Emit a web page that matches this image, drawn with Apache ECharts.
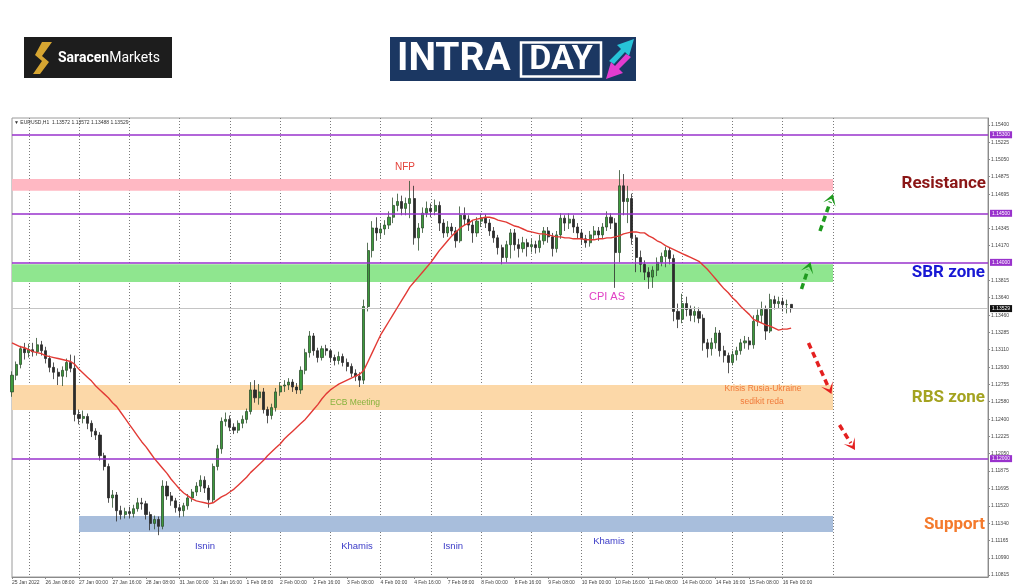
<!DOCTYPE html>
<html><head><meta charset="utf-8">
<script src="https://cdn.jsdelivr.net/npm/echarts@6/dist/echarts.min.js"></script>
<style>html,body{margin:0;padding:0;background:#fff}#c{width:1024px;height:587px}</style>
</head><body><div id="c"></div>
<script>
// ---- tick labels ----
const xTickLabels = ["25 Jan 2022","26 Jan 08:00","27 Jan 00:00","27 Jan 16:00","28 Jan 08:00","31 Jan 00:00","31 Jan 16:00","1 Feb 08:00","2 Feb 00:00","2 Feb 16:00","3 Feb 08:00","4 Feb 00:00","4 Feb 16:00","7 Feb 08:00","8 Feb 00:00","8 Feb 16:00","9 Feb 08:00","10 Feb 00:00","10 Feb 16:00","11 Feb 08:00","14 Feb 00:00","14 Feb 16:00","15 Feb 08:00","16 Feb 00:00"];
const yTickValues = [1.15400,1.15225,1.15050,1.14875,1.14695,1.14345,1.14170,1.13815,1.13640,1.13460,1.13285,1.13110,1.12930,1.12755,1.12580,1.12400,1.12225,1.12050,1.11875,1.11695,1.11520,1.11340,1.11165,1.10990,1.10815];
// ---- levels & zones ----
const levelLines = [1.15300, 1.14500, 1.14000, 1.12000];
const lastPrice = 1.13529;
const resistanceZone = [1.1473, 1.1485];
const sbrZone = [1.1380, 1.1398];
const rbsZone = [1.12496, 1.12751];
const supportZone = [1.11252, 1.11415];
// ---- EURUSD 2-hour candles [open, close, low, high] ----
const candles = [
[1.1268,1.1285,1.1263,1.1289],[1.1285,1.1296,1.1280,1.1299],[1.1296,1.1312,1.1292,1.1315],[1.1312,1.1308,1.1301,1.1318],[1.1308,1.1311,1.1303,1.1317],
[1.1311,1.1309,1.1304,1.1318],[1.1309,1.1316,1.1305,1.1323],[1.1316,1.1310,1.1305,1.1320],[1.1310,1.1302,1.1297,1.1314],[1.1302,1.1293,1.1288,1.1305],
[1.1293,1.1288,1.1281,1.1298],[1.1288,1.1284,1.1275,1.1292],[1.1284,1.1290,1.1274,1.1294],[1.1290,1.1298,1.1283,1.1302],[1.1298,1.1292,1.1288,1.1306],
[1.1292,1.1245,1.1238,1.1305],[1.1245,1.1241,1.1235,1.1250],[1.1241,1.1243,1.1236,1.1249],[1.1243,1.1236,1.1230,1.1246],[1.1236,1.1228,1.1222,1.1239],
[1.1228,1.1224,1.1219,1.1231],[1.1224,1.1203,1.1198,1.1227],[1.1203,1.1192,1.1188,1.1206],[1.1192,1.1160,1.1155,1.1195],[1.1160,1.1163,1.1150,1.1168],
[1.1163,1.1147,1.1136,1.1166],[1.1147,1.1143,1.1138,1.1152],[1.1143,1.1146,1.1139,1.1150],[1.1146,1.1144,1.1139,1.1151],[1.1144,1.1149,1.1140,1.1153],
[1.1149,1.1155,1.1146,1.1160],[1.1155,1.1154,1.1148,1.1160],[1.1154,1.1143,1.1138,1.1157],[1.1143,1.1134,1.1127,1.1146],[1.1134,1.1138,1.1128,1.1142],
[1.1138,1.1131,1.1122,1.1141],[1.1131,1.1172,1.1128,1.1178],[1.1172,1.1162,1.1158,1.1177],[1.1162,1.1157,1.1152,1.1166],[1.1157,1.1150,1.1145,1.1160],
[1.1150,1.1147,1.1140,1.1154],[1.1147,1.1152,1.1141,1.1155],[1.1152,1.1160,1.1148,1.1164],[1.1160,1.1166,1.1156,1.1169],[1.1166,1.1172,1.1162,1.1176],
[1.1172,1.1178,1.1166,1.1183],[1.1178,1.1170,1.1165,1.1182],[1.1170,1.1158,1.1150,1.1173],[1.1158,1.1192,1.1155,1.1195],[1.1192,1.1210,1.1188,1.1214],
[1.1210,1.1238,1.1205,1.1242],[1.1238,1.1240,1.1233,1.1247],[1.1240,1.1232,1.1228,1.1244],[1.1232,1.1229,1.1225,1.1236],[1.1229,1.1236,1.1226,1.1239],
[1.1236,1.1240,1.1231,1.1244],[1.1240,1.1248,1.1236,1.1251],[1.1248,1.1270,1.1245,1.1278],[1.1270,1.1262,1.1257,1.1280],[1.1262,1.1268,1.1255,1.1276],
[1.1268,1.1250,1.1246,1.1272],[1.1250,1.1244,1.1236,1.1253],[1.1244,1.1252,1.1240,1.1256],[1.1252,1.1268,1.1248,1.1272],[1.1268,1.1274,1.1264,1.1278],
[1.1274,1.1275,1.1268,1.1280],[1.1275,1.1278,1.1270,1.1282],[1.1278,1.1273,1.1268,1.1281],[1.1273,1.1270,1.1266,1.1277],[1.1270,1.1290,1.1266,1.1294],
[1.1290,1.1308,1.1286,1.1312],[1.1308,1.1325,1.1303,1.1330],[1.1325,1.1310,1.1305,1.1328],[1.1310,1.1303,1.1298,1.1313],[1.1303,1.1312,1.1300,1.1315],
[1.1312,1.1310,1.1305,1.1316],[1.1310,1.1303,1.1298,1.1312],[1.1303,1.1300,1.1295,1.1306],[1.1300,1.1304,1.1296,1.1309],[1.1304,1.1298,1.1294,1.1307],
[1.1298,1.1294,1.1289,1.1302],[1.1294,1.1287,1.1283,1.1297],[1.1287,1.1284,1.1279,1.1291],[1.1284,1.1280,1.1273,1.1288],[1.1280,1.1355,1.1276,1.1362],
[1.1355,1.1412,1.1350,1.1420],[1.1412,1.1435,1.1405,1.1442],[1.1435,1.1430,1.1422,1.1446],[1.1430,1.1434,1.1424,1.1440],[1.1434,1.1438,1.1428,1.1443],
[1.1438,1.1446,1.1434,1.1452],[1.1446,1.1458,1.1440,1.1466],[1.1458,1.1462,1.1452,1.1470],[1.1462,1.1455,1.1448,1.1468],[1.1455,1.1460,1.1448,1.1466],
[1.1460,1.1465,1.1445,1.1483],[1.1465,1.1425,1.1418,1.1478],[1.1425,1.1435,1.1412,1.1440],[1.1435,1.1450,1.1430,1.1456],[1.1450,1.1455,1.1446,1.1462],
[1.1455,1.1452,1.1446,1.1460],[1.1452,1.1458,1.1448,1.1464],[1.1458,1.1440,1.1432,1.1462],[1.1440,1.1430,1.1425,1.1444],[1.1430,1.1436,1.1426,1.1442],
[1.1436,1.1432,1.1428,1.1440],[1.1432,1.1422,1.1415,1.1436],[1.1422,1.1448,1.1420,1.1457],[1.1448,1.1444,1.1438,1.1456],[1.1444,1.1438,1.1432,1.1448],
[1.1438,1.1430,1.1420,1.1442],[1.1430,1.1442,1.1426,1.1446],[1.1442,1.1445,1.1436,1.1450],[1.1445,1.1440,1.1435,1.1449],[1.1440,1.1432,1.1427,1.1444],
[1.1432,1.1425,1.1420,1.1436],[1.1425,1.1415,1.1408,1.1428],[1.1415,1.1405,1.1398,1.1418],[1.1405,1.1418,1.1400,1.1422],[1.1418,1.1430,1.1404,1.1434],
[1.1430,1.1418,1.1412,1.1434],[1.1418,1.1414,1.1405,1.1424],[1.1414,1.1420,1.1410,1.1426],[1.1420,1.1416,1.1406,1.1424],[1.1416,1.1418,1.1410,1.1424],
[1.1418,1.1415,1.1409,1.1422],[1.1415,1.1422,1.1410,1.1428],[1.1422,1.1432,1.1418,1.1436],[1.1432,1.1426,1.1420,1.1436],[1.1426,1.1414,1.1406,1.1430],
[1.1414,1.1428,1.1410,1.1432],[1.1428,1.1445,1.1424,1.1450],[1.1445,1.1440,1.1432,1.1448],[1.1440,1.1444,1.1434,1.1450],[1.1444,1.1436,1.1430,1.1448],
[1.1436,1.1430,1.1424,1.1440],[1.1430,1.1424,1.1418,1.1434],[1.1424,1.1420,1.1415,1.1428],[1.1420,1.1428,1.1416,1.1432],[1.1428,1.1432,1.1424,1.1437],
[1.1432,1.1428,1.1422,1.1436],[1.1428,1.1436,1.1424,1.1440],[1.1436,1.1446,1.1432,1.1452],[1.1446,1.1440,1.1434,1.1450],[1.1440,1.1410,1.1374,1.1445],
[1.1410,1.1478,1.1400,1.1494],[1.1478,1.1462,1.1448,1.1490],[1.1462,1.1465,1.1440,1.1478],[1.1465,1.1425,1.1418,1.1470],[1.1425,1.1405,1.1390,1.1428],
[1.1405,1.1398,1.1390,1.1412],[1.1398,1.1390,1.1382,1.1402],[1.1390,1.1385,1.1373,1.1395],[1.1385,1.1392,1.1374,1.1396],[1.1392,1.1400,1.1386,1.1405],
[1.1400,1.1406,1.1396,1.1410],[1.1406,1.1412,1.1395,1.1416],[1.1412,1.1404,1.1398,1.1415],[1.1404,1.1350,1.1340,1.1408],[1.1350,1.1342,1.1333,1.1358],
[1.1342,1.1358,1.1338,1.1368],[1.1358,1.1352,1.1345,1.1365],[1.1352,1.1346,1.1340,1.1356],[1.1346,1.1350,1.1339,1.1355],[1.1350,1.1343,1.1338,1.1354],
[1.1343,1.1318,1.1310,1.1347],[1.1318,1.1312,1.1303,1.1322],[1.1312,1.1318,1.1305,1.1323],[1.1318,1.1328,1.1312,1.1334],[1.1328,1.1310,1.1304,1.1331],
[1.1310,1.1305,1.1298,1.1315],[1.1305,1.1298,1.1287,1.1308],[1.1298,1.1306,1.1295,1.1310],[1.1306,1.1310,1.1300,1.1314],[1.1310,1.1318,1.1306,1.1322],
[1.1318,1.1320,1.1312,1.1325],[1.1320,1.1316,1.1311,1.1324],[1.1316,1.1340,1.1312,1.1346],[1.1340,1.1346,1.1335,1.1352],[1.1346,1.1352,1.1338,1.1360],
[1.1352,1.1330,1.1321,1.1356],[1.1330,1.1362,1.1328,1.1368],[1.1362,1.1358,1.1352,1.1366],[1.1358,1.1360,1.1353,1.1365],[1.1360,1.1357,1.1350,1.1364],
[1.1357,1.1357,1.1348,1.1362],[1.13572,1.13529,1.13488,1.13572]
];
// ---- moving average (red line) ----
const maValues = [
1.1318,1.1316,1.1314,1.1313,1.1311,1.1309,1.1308,1.1307,1.1305,1.1304,
1.1303,1.1302,1.1301,1.1300,1.1299,1.1296,1.1291,1.1287,1.1283,1.1279,
1.1274,1.1270,1.1266,1.1262,1.1257,1.1253,1.1247,1.1241,1.1235,1.1229,
1.1223,1.1217,1.1212,1.1206,1.1200,1.1195,1.1190,1.1185,1.1179,1.1174,
1.1169,1.1165,1.1162,1.1159,1.1157,1.1156,1.1155,1.1154,1.1155,1.1158,
1.1161,1.1163,1.1166,1.1169,1.1173,1.1177,1.1181,1.1186,1.1190,1.1194,
1.1198,1.1203,1.1207,1.1211,1.1215,1.1220,1.1224,1.1228,1.1232,1.1236,
1.1240,1.1245,1.1250,1.1255,1.1261,1.1266,1.1270,1.1273,1.1276,1.1278,
1.1280,1.1282,1.1284,1.1286,1.1290,1.1299,1.1308,1.1317,1.1326,1.1333,
1.1340,1.1347,1.1354,1.1361,1.1368,1.1375,1.1380,1.1385,1.1390,1.1395,
1.1400,1.1406,1.1412,1.1417,1.1422,1.1427,1.1431,1.1435,1.1438,1.1440,
1.1443,1.1444,1.1445,1.1446,1.1446,1.1445,1.1443,1.1442,1.1441,1.1439,
1.1437,1.1436,1.1434,1.1432,1.1431,1.1430,1.1429,1.1429,1.1428,1.1427,
1.1426,1.1426,1.1425,1.1425,1.1424,1.1424,1.1424,1.1423,1.1423,1.1423,
1.1424,1.1424,1.1425,1.1425,1.1426,1.1427,1.1429,1.1430,1.1431,1.1431,
1.1430,1.1430,1.1427,1.1425,1.1422,1.1420,1.1417,1.1415,1.1413,1.1411,
1.1409,1.1407,1.1405,1.1403,1.1401,1.1397,1.1393,1.1388,1.1383,1.1378,
1.1373,1.1369,1.1364,1.1360,1.1355,1.1351,1.1347,1.1342,1.1340,1.1338,
1.1336,1.1335,1.1333,1.1331,1.1332,1.1332,1.1333
];

// ---- categories: 2-hour trading slots from 25 Jan 2022 16:00, plus empty future slots ----
const NCAT = 234;
const MON = ["Jan","Feb","Mar"];
const cats = [];
(function(){
  let t = Date.UTC(2022,0,25,16);
  while (cats.length < NCAT) {
    const d = new Date(t), wd = d.getUTCDay();
    if (wd !== 0 && wd !== 6) cats.push(d.getUTCDate()+" "+MON[d.getUTCMonth()]+" "+String(d.getUTCHours()).padStart(2,"0")+":00");
    t += 7200000;
  }
})();
const ZONE_END = 196; // 17 Feb 00:00
const BLUE_START = 16; // 27 Jan 00:00

const FONT = '"Liberation Sans", Arial, sans-serif';
function txt(x, y, s, fill, size, weight, align, family){
  return {type:'text', x:x, y:y, z:100, style:{text:s, fill:fill, font:(weight||'normal')+' '+size+'px '+(family||FONT), align:align||'center', verticalAlign:'middle'}};
}
function arrow(x1,y1,x2,y2,color){
  const dx=x2-x1, dy=y2-y1, L=Math.hypot(dx,dy), ux=dx/L, uy=dy/L, nx=-uy, ny=ux;
  const hl=11, hw=6.5, nt=5;
  const bx=x2-ux*hl, by=y2-uy*hl, mx=x2-ux*nt, my=y2-uy*nt;
  return [
    {type:'line', z:100, shape:{x1:x1,y1:y1,x2:x2-ux*8,y2:y2-uy*8}, style:{stroke:color,lineWidth:3.5,lineDash:[6,4]}},
    {type:'polygon', z:100, shape:{points:[[x2,y2],[bx+nx*hw,by+ny*hw],[mx,my],[bx-nx*hw,by-ny*hw]]}, style:{fill:color}}
  ];
}

const zoneArea = (z, c, x0) => [{yAxis:z[0], xAxis:cats[x0], itemStyle:{color:c}}, {yAxis:z[1], xAxis:cats[ZONE_END]}];

const graphics = [
  // Saracen Markets logo
  {type:'rect', shape:{x:24,y:37,width:148,height:41}, style:{fill:'#1d1d1d'}},
  {type:'polygon', shape:{points:[[42,42],[52,42],[42,56],[49,62],[40,74],[33,74],[42,61],[35,55]]}, style:{fill:'#d6a531'}},
  {type:'text', x:58, y:58, style:{text:'{b|Saracen}{r|Markets}', rich:{b:{fill:'#fff',font:'bold 14px Roboto'}, r:{fill:'#fff',font:'normal 14px Roboto'}}, verticalAlign:'middle', align:'left'}},
  // INTRADAY logo
  {type:'rect', shape:{x:390,y:37,width:246,height:44}, style:{fill:'#1b3762'}},
  {type:'text', x:397, y:60, style:{text:'INTRA', fill:'#fff', font:'bold 39px Roboto', align:'left', verticalAlign:'middle'}},
  {type:'rect', shape:{x:521,y:42.5,width:80,height:34}, style:{fill:'none', stroke:'#fff', lineWidth:2.5}},
  {type:'text', x:561, y:60, style:{text:'DAY', fill:'#fff', font:'bold 34px Roboto', align:'center', verticalAlign:'middle'}},
  {type:'polygon', shape:{points:[[609,61],[621,49],[617,45],[634,39],[629,56],[625,52],[614,64]]}, style:{fill:'#27c3d8'}},
  {type:'polygon', shape:{points:[[631,57],[619,69],[623,73],[606,79],[611,62],[615,66],[626,54]]}, style:{fill:'#e23ccf'}},
  // header
  txt(14, 123, '\u25BC EURUSD,H1  1.13572 1.13572 1.13488 1.13529', '#333', 5, 'normal', 'left'),
  // zone labels
  txt(986, 184, 'Resistance', '#8b1616', 17, 'bold', 'right', 'Roboto'),
  txt(985, 273, 'SBR zone', '#1818d4', 17, 'bold', 'right', 'Roboto'),
  txt(985, 398, 'RBS zone', '#a4a320', 17, 'bold', 'right', 'Roboto'),
  txt(985, 525, 'Support', '#f47a2c', 17, 'bold', 'right', 'Roboto'),
  // annotations
  txt(405, 167, 'NFP', '#e4433b', 10),
  txt(607, 297, 'CPI AS', '#e040c4', 11),
  txt(355, 403, 'ECB Meeting', '#86b23c', 8.5),
  txt(763, 389, 'Krisis Rusia-Ukraine', '#f07a3a', 8.5),
  txt(762, 402, 'sedikit reda', '#f07a3a', 8.5),
  txt(205, 546, 'Isnin', '#3b3bc7', 9.5),
  txt(357, 546, 'Khamis', '#3b3bc7', 9.5),
  txt(453, 546, 'Isnin', '#3b3bc7', 9.5),
  txt(609, 541, 'Khamis', '#3b3bc7', 9.5)
].concat(
  arrow(801.5,289,810.5,262,'#1f9a1f'),
  arrow(820,231,833,194,'#1f9a1f'),
  arrow(808.5,343,831.5,394,'#e42020'),
  arrow(839.5,425,855,450,'#e42020')
);

const labelIdx = i => i % 8 === 0 && i / 8 < xTickLabels.length;
const chart = echarts.init(document.getElementById('c'), null, {renderer:'canvas'});
chart.setOption({
  animation:false,
  backgroundColor:'#fff',
  grid:{left:12, right:36, top:118, bottom:10, show:true, borderColor:'#9a9a9a', borderWidth:1},
  xAxis:{
    type:'category', data:cats, boundaryGap:false,
    axisLine:{lineStyle:{color:'#8a8a8a', width:1}},
    axisTick:{show:true, interval:labelIdx, length:2, lineStyle:{color:'#8a8a8a'}},
    axisLabel:{interval:labelIdx, formatter:(v,i)=>xTickLabels[i/8], fontSize:5, color:'#444', align:'left', margin:3, fontFamily:FONT},
    splitLine:{show:true, interval:(i)=> i>=4 && (i-4)%12===0 && i<=ZONE_END, lineStyle:{color:'#7a7a7a', width:1, type:[1,2]}}
  },
  yAxis:{
    type:'value', position:'right', min:1.10794, max:1.15471,
    axisLine:{show:true, lineStyle:{color:'#8a8a8a'}},
    axisTick:{show:true, customValues:yTickValues, length:2, lineStyle:{color:'#8a8a8a'}},
    axisLabel:{customValues:yTickValues, formatter:v=>v.toFixed(5), fontSize:5, color:'#444', margin:3, fontFamily:FONT},
    splitLine:{show:false}
  },
  series:[
    {
      type:'candlestick', data:candles, barWidth:2.6,
      itemStyle:{color:'#3d9b3d', color0:'#2b2b2b', borderColor:'#2f4f2f', borderColor0:'#2b2b2b', borderWidth:0.8},
      markArea:{silent:true, data:[
        zoneArea(resistanceZone,'#ffb8c3',0),
        zoneArea(sbrZone,'#8fe68f',0),
        zoneArea(rbsZone,'#fcd8a8',0),
        zoneArea(supportZone,'#a8bedc',BLUE_START)
      ]},
      markLine:{silent:true, precision:5, symbol:['none','none'], data:
        levelLines.map(v=>({yAxis:v, lineStyle:{color:'#9932cc', width:1.5, type:'solid'},
          label:{show:true, position:'end', distance:2, formatter:()=>v.toFixed(5), color:'#fff', backgroundColor:'#9932cc', fontSize:5, padding:[1,2], fontFamily:FONT}}))
        .concat([{yAxis:lastPrice, lineStyle:{color:'#c4c4c4', width:1, type:'solid'},
          label:{show:true, position:'end', distance:2, formatter:()=>lastPrice.toFixed(5), color:'#fff', backgroundColor:'#111', fontSize:5, padding:[1,2], fontFamily:FONT}}])
      }
    },
    {type:'line', data:maValues, showSymbol:false, symbol:'none', z:5, lineStyle:{color:'#e23a35', width:1.4}}
  ],
  graphic:graphics
});
</script></body></html>
